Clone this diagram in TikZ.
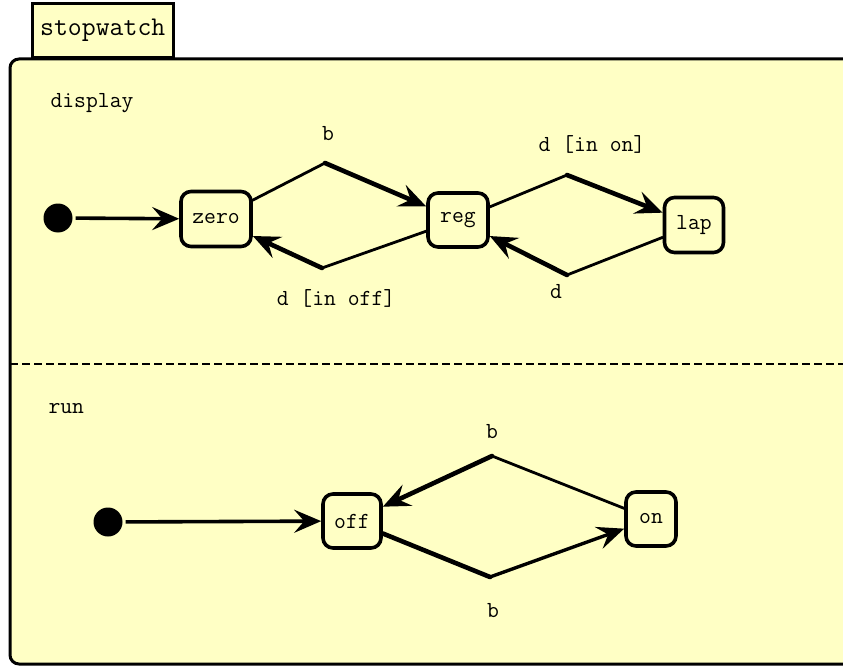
\documentclass[tikz,border=0pt]{standalone}
\usetikzlibrary{arrows.meta}

\definecolor{chartfill}{RGB}{255,255,197}

\tikzset{
  txt/.style={font=\fontsize{23}{26}\selectfont\ttfamily},
  state/.style={txt, draw, line width=3.6pt, rounded corners=10pt, fill=chartfill, inner sep=2pt},
  initdot/.style={circle, fill, inner sep=0pt, minimum size=29pt},
  tip/.style={-{Stealth[length=27pt,width=23pt,inset=10pt]}},
  seg/.style={line width=2.8pt, line cap=round},
  tseg/.style={line width=4.6pt, line cap=round, tip},
}

\begin{document}
\begin{tikzpicture}[x=1pt,y=-1pt]
  \useasboundingbox (0,0) rectangle (843,666);
  \clip (0,0) rectangle (843,666);

  % chart frame with its name tab
  \node[draw, line width=2.5pt, fill=chartfill, anchor=south west,
        minimum width=141pt, minimum height=54pt, font=\fontsize{27}{30}\selectfont\ttfamily] (tab) at (31,59) {stopwatch};
  \draw[fill=chartfill, line width=3pt, rounded corners=9pt] (10,59) rectangle (880,664);
  \draw[line width=2.4pt, dash pattern=on 8pt off 4pt] (10,364) -- (843,364);

  \node[txt, anchor=base west] (dispname) at (47,108) {display};
  \node[txt, anchor=base west] (runname) at (45,413) {run};

  % display region
  \node[initdot] (init1) at (58,218) {};
  \node[state, minimum width=70pt, minimum height=55pt] (zero) at (216,219) {zero};
  \node[state, minimum width=60pt, minimum height=54pt] (reg) at (458,220) {reg};
  \node[state, minimum width=59pt, minimum height=55pt] (lap) at (694,225) {lap};
  \coordinate (k1) at (325,163);
  \coordinate (k2) at (322,268);
  \coordinate (k3) at (567,175);
  \coordinate (k4) at (567,275);

  \draw[line width=3.6pt, shorten <=3pt, tip] (init1) -- (zero);
  \draw[seg] (zero) -- (k1);
  \draw[tseg] (k1) -- (reg);
  \draw[seg] (reg) -- (k2);
  \draw[tseg] (k2) -- (zero);
  \draw[seg] (reg) -- (k3);
  \draw[tseg] (k3) -- (lap);
  \draw[seg] (lap) -- (k4);
  \draw[tseg] (k4) -- (reg);

  \node[txt, anchor=base] (lb1) at (328,141) {b};
  \node[txt, anchor=base] (lb2) at (336,305) {d [in off]};
  \node[txt, anchor=base] (lb3) at (592,152) {d [in on]};
  \node[txt, anchor=base] (lb4) at (556,298) {d};

  % run region
  \node[initdot] (init2) at (108,522) {};
  \node[state, minimum width=58pt, minimum height=54pt] (off) at (352,521) {off};
  \node[state, minimum width=50pt, minimum height=54pt] (on) at (651,519) {on};
  \coordinate (k5) at (492,456);
  \coordinate (k6) at (490,577);

  \draw[line width=3.6pt, shorten <=3pt, tip] (init2) -- (off);
  \draw[seg] (on) -- (k5);
  \draw[tseg] (k5) -- (off);
  \draw[line width=4.6pt, line cap=round] (off) -- (k6);
  \draw[line width=3.4pt, line cap=round, tip] (k6) -- (on);

  \node[txt, anchor=base] (lb5) at (492,438) {b};
  \node[txt, anchor=base] (lb6) at (493,617) {b};
\end{tikzpicture}
\end{document}
